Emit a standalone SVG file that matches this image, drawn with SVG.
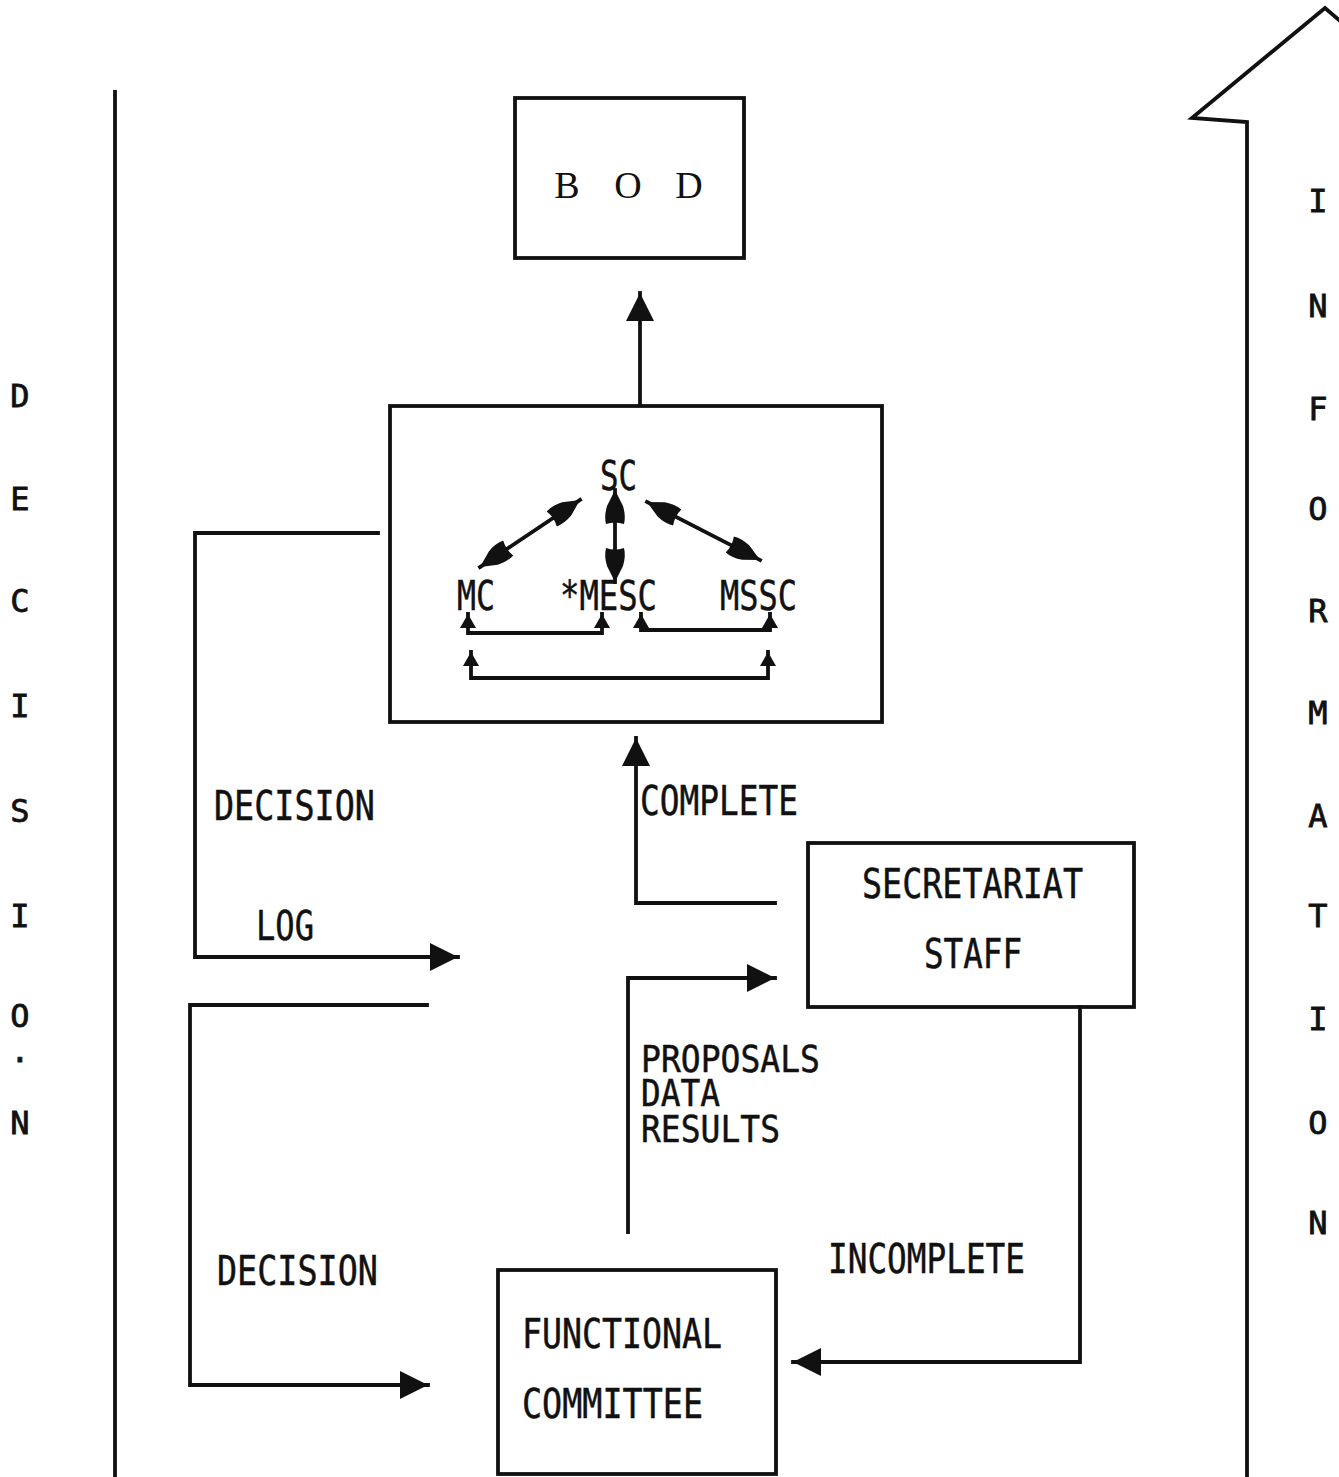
<svg xmlns="http://www.w3.org/2000/svg" width="1339" height="1477" viewBox="0 0 1339 1477">
<style>
.ln{fill:none;stroke:#111;stroke-width:3.8;stroke-linecap:square;stroke-linejoin:miter}
.box{fill:none;stroke:#111;stroke-width:3.8}
.t{font-family:"DejaVu Sans Mono","Liberation Mono",monospace;font-size:41px;fill:#111;stroke:#111;stroke-width:0.5}
.p{font-family:"DejaVu Sans Mono","Liberation Mono",monospace;font-size:37px;fill:#111;stroke:#111;stroke-width:0.5}
.s{font-family:"DejaVu Sans Mono","Liberation Mono",monospace;font-size:32px;fill:#111;text-anchor:middle;stroke:#111;stroke-width:0.8}
.ser{font-family:"Liberation Serif","DejaVu Serif",serif;font-size:38px;fill:#111;text-anchor:middle}
</style>
<defs>
<marker id="big" markerUnits="userSpaceOnUse" markerWidth="30" markerHeight="30" refX="28" refY="14" orient="auto-start-reverse" viewBox="0 0 30 28">
<path d="M0,0 L28,14 L0,28 z" fill="#111"/>
</marker>
<marker id="dbl" markerUnits="userSpaceOnUse" markerWidth="36" markerHeight="24" refX="34" refY="11" orient="auto-start-reverse" viewBox="0 0 36 22">
<path d="M0,2 Q8,0 18,3 L34,11 L18,19 Q8,22 0,20 Q3,11 0,2 z" fill="#111"/>
</marker>
<marker id="sm" markerUnits="userSpaceOnUse" markerWidth="16" markerHeight="16" refX="14" refY="8" orient="auto-start-reverse" viewBox="0 0 16 16">
<path d="M0,0 L14,8 L0,16 z" fill="#111"/>
</marker>
</defs>

<g id="decision-axis">
<line class="ln" x1="115" y1="92" x2="115" y2="1477"/>
<text class="s" x="20" y="407">D</text>
<text class="s" x="20" y="510">E</text>
<text class="s" x="20" y="612">C</text>
<text class="s" x="20" y="717">I</text>
<text class="s" x="20" y="822">S</text>
<text class="s" x="20" y="927">I</text>
<text class="s" x="20" y="1027">O</text>
<text class="s" x="20" y="1062" font-size="16">.</text>
<text class="s" x="20" y="1134">N</text>
</g>

<g id="information-axis">
<path class="ln" d="M1247,1477 V122 L1192,118 L1325,8 L1345,25" stroke-linejoin="round"/>
<text class="s" x="1318" y="212">I</text>
<text class="s" x="1318" y="317">N</text>
<text class="s" x="1318" y="420">F</text>
<text class="s" x="1318" y="520">O</text>
<text class="s" x="1318" y="622">R</text>
<text class="s" x="1318" y="724">M</text>
<text class="s" x="1318" y="827">A</text>
<text class="s" x="1318" y="927">T</text>
<text class="s" x="1318" y="1030">I</text>
<text class="s" x="1318" y="1134">O</text>
<text class="s" x="1318" y="1234">N</text>
</g>

<g id="bod">
<rect class="box" x="515" y="98" width="229" height="160"/>
<text class="ser" x="567 598 628 659 689" y="198">B O D</text>
</g>

<g id="committees">
<rect class="box" x="390" y="406" width="492" height="316"/>
<text class="t" x="600" y="490" textLength="37" lengthAdjust="spacingAndGlyphs">SC</text>
<text class="t" x="457" y="610" textLength="38" lengthAdjust="spacingAndGlyphs">MC</text>
<text class="t" x="560" y="610" textLength="97" lengthAdjust="spacingAndGlyphs">*MESC</text>
<text class="t" x="720" y="610" textLength="77" lengthAdjust="spacingAndGlyphs">MSSC</text>
</g>

<g id="secretariat">
<rect class="box" x="808" y="843" width="326" height="164"/>
<text class="t" x="862" y="898" textLength="221" lengthAdjust="spacingAndGlyphs">SECRETARIAT</text>
<text class="t" x="924" y="968" textLength="98" lengthAdjust="spacingAndGlyphs">STAFF</text>
</g>

<g id="functional">
<rect class="box" x="498" y="1270" width="278" height="204"/>
<text class="t" x="522" y="1348" textLength="200" lengthAdjust="spacingAndGlyphs">FUNCTIONAL</text>
<text class="t" x="522" y="1418" textLength="181" lengthAdjust="spacingAndGlyphs">COMMITTEE</text>
</g>

<g id="connectors">
<line class="ln" x1="640" y1="405" x2="640" y2="293" marker-end="url(#big)"/>
<path class="ln" d="M775,903 H636 V738" marker-end="url(#big)"/>
<path class="ln" d="M378,533 H195 V957 H458" marker-end="url(#big)"/>
<path class="ln" d="M427,1005 H190 V1385 H428" marker-end="url(#big)"/>
<path class="ln" d="M628,1232 V978 H775" marker-end="url(#big)"/>
<path class="ln" d="M1080,1007 V1362 H793" marker-end="url(#big)"/>
<line class="ln" x1="480" y1="567" x2="580" y2="500" marker-start="url(#dbl)" marker-end="url(#dbl)"/>
<line class="ln" x1="615" y1="490" x2="615" y2="582" marker-start="url(#dbl)" marker-end="url(#dbl)"/>
<line class="ln" x1="647" y1="502" x2="760" y2="560" marker-start="url(#dbl)" marker-end="url(#dbl)"/>
<path class="ln" d="M468,614 V633 H602 V614" stroke-width="3" marker-start="url(#sm)" marker-end="url(#sm)"/>
<path class="ln" d="M641,614 V630 H770 V614" stroke-width="3" marker-start="url(#sm)" marker-end="url(#sm)"/>
<path class="ln" d="M471,652 V678 H768 V652" stroke-width="3" marker-start="url(#sm)" marker-end="url(#sm)"/>
</g>

<g id="labels">
<text class="t" x="214" y="820" textLength="161" lengthAdjust="spacingAndGlyphs">DECISION</text>
<text class="t" x="256" y="940" textLength="58" lengthAdjust="spacingAndGlyphs">LOG</text>
<text class="t" x="640" y="815" textLength="158" lengthAdjust="spacingAndGlyphs">COMPLETE</text>
<text class="p" x="641" y="1072" textLength="179" lengthAdjust="spacingAndGlyphs">PROPOSALS</text>
<text class="p" x="641" y="1106" textLength="79" lengthAdjust="spacingAndGlyphs">DATA</text>
<text class="p" x="641" y="1142" textLength="139" lengthAdjust="spacingAndGlyphs">RESULTS</text>
<text class="t" x="217" y="1285" textLength="161" lengthAdjust="spacingAndGlyphs">DECISION</text>
<text class="t" x="828" y="1273" textLength="197" lengthAdjust="spacingAndGlyphs">INCOMPLETE</text>
</g>
</svg>
